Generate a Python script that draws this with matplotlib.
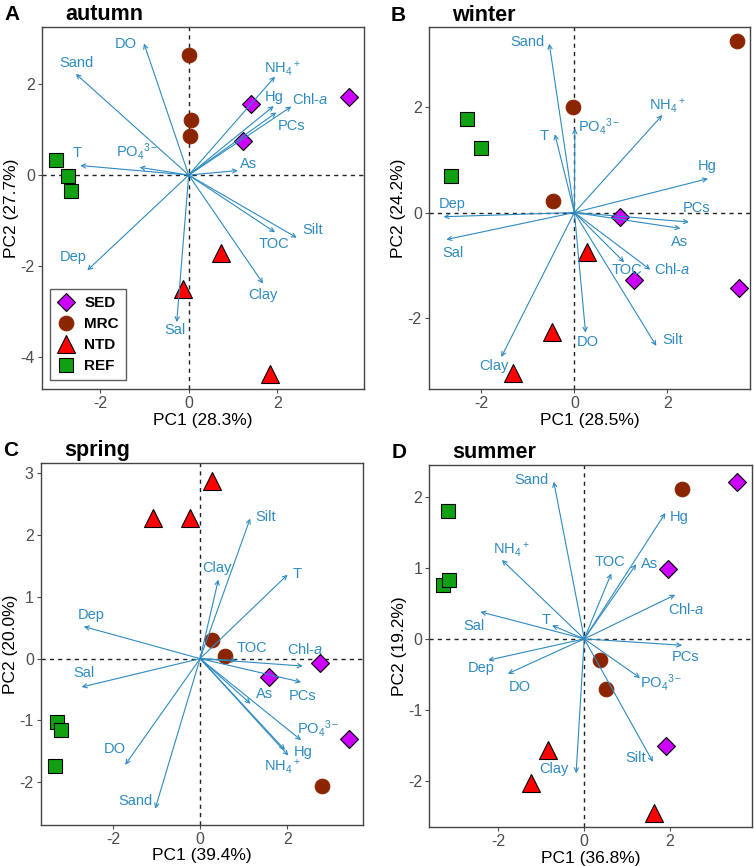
import matplotlib
matplotlib.use("Agg")
import matplotlib.pyplot as plt
import numpy as np

plt.rcParams['font.family'] = ['Liberation Sans', 'DejaVu Sans']
plt.rcParams['mathtext.fontset'] = 'custom'
plt.rcParams['mathtext.rm'] = 'Liberation Sans'
plt.rcParams['mathtext.it'] = 'Liberation Sans:italic'
plt.rcParams['axes.unicode_minus'] = False

# variable names used for the loading arrows
NH4 = r'NH$_4$$^+$'
PO4 = r'PO$_4$$^{3-}$'
CHL = r'Chl-$\mathit{a}$'

# ---- autumn ----
aut_groups = ['SED', 'SED', 'SED', 'MRC', 'MRC', 'MRC', 'NTD', 'NTD', 'NTD', 'REF', 'REF', 'REF']
aut_pc1 = [1.40, 1.22, 3.62, 0.00, 0.05, 0.03, 0.73, -0.12, 1.83, -2.99, -2.73, -2.65]
aut_pc2 = [1.57, 0.76, 1.71, 2.64, 1.21, 0.85, -1.71, -2.52, -4.39, 0.33, -0.02, -0.35]
aut_vars = ['DO', 'Sand', NH4, 'Hg', CHL, 'PCs', 'T', PO4, 'As', 'Silt', 'TOC', 'Clay', 'Dep', 'Sal']
aut_load1 = [-1.01, -2.55, 1.95, 1.92, 2.32, 1.98, -2.45, -1.11, 1.11, 2.44, 1.95, 1.68, -2.29, -0.27]
aut_load2 = [2.90, 2.23, 2.17, 1.52, 1.51, 1.38, 0.21, 0.17, 0.10, -1.38, -1.26, -2.39, -2.10, -3.24]
aut_labx = [-1.42, -2.53, 2.12, 1.93, 2.74, 2.32, -2.51, -1.17, 1.35, 2.80, 1.92, 1.68, -2.62, -0.31]
aut_laby = [2.88, 2.48, 2.35, 1.71, 1.67, 1.08, 0.49, 0.53, 0.24, -1.21, -1.51, -2.65, -1.80, -3.42]

# ---- winter ----
win_groups = ['MRC', 'MRC', 'MRC', 'REF', 'REF', 'REF', 'SED', 'SED', 'SED', 'NTD', 'NTD', 'NTD']
win_pc1 = [3.49, -0.03, -0.47, -2.30, -2.00, -2.66, 0.97, 1.28, 3.54, 0.27, -0.49, -1.32]
win_pc2 = [3.25, 2.00, 0.21, 1.76, 1.22, 0.69, -0.08, -1.27, -1.42, -0.74, -2.25, -3.03]
win_vars = ['Sand', NH4, PO4, 'T', 'Hg', 'PCs', 'As', CHL, 'TOC', 'Silt', 'DO', 'Clay', 'Dep', 'Sal']
win_load1 = [-0.54, 1.89, 0.01, -0.42, 2.87, 2.46, 2.28, 1.63, 1.07, 1.76, 0.24, -1.57, -2.81, -2.75]
win_load2 = [3.19, 1.84, 1.59, 1.48, 0.64, -0.18, -0.30, -1.08, -0.94, -2.52, -2.27, -2.73, -0.08, -0.51]
win_labx = [-1.00, 1.99, 0.54, -0.66, 2.85, 2.63, 2.26, 2.10, 1.13, 2.12, 0.29, -1.72, -2.63, -2.61]
win_laby = [3.23, 2.01, 1.62, 1.45, 0.88, 0.09, -0.55, -1.08, -1.08, -2.41, -2.44, -2.90, 0.17, -0.77]

# ---- spring ----
spr_groups = ['NTD', 'NTD', 'NTD', 'MRC', 'MRC', 'MRC', 'SED', 'SED', 'SED', 'REF', 'REF', 'REF']
spr_pc1 = [0.28, -1.07, -0.23, 0.28, 0.58, 2.80, 2.76, 1.58, 3.41, -3.28, -3.20, -3.33]
spr_pc2 = [2.87, 2.28, 2.28, 0.31, 0.04, -2.07, -0.07, -0.30, -1.30, -1.02, -1.15, -1.74]
spr_vars = ['Silt', 'Clay', 'T', 'Dep', 'TOC', CHL, 'PCs', 'As', PO4, 'Hg', NH4, 'Sal', 'DO', 'Sand']
spr_load1 = [1.15, 0.42, 2.01, -2.67, 0.84, 2.36, 2.32, 1.16, 2.32, 1.95, 2.03, -2.72, -1.72, -1.03]
spr_load2 = [2.27, 1.28, 1.36, 0.52, -0.03, -0.12, -0.38, -0.73, -1.32, -1.48, -1.57, -0.46, -1.72, -2.43]
spr_labx = [1.51, 0.38, 2.24, -2.51, 1.19, 2.41, 2.36, 1.49, 2.72, 2.36, 1.90, -2.67, -1.97, -1.49]
spr_laby = [2.30, 1.47, 1.37, 0.71, 0.17, 0.15, -0.61, -0.58, -1.13, -1.52, -1.76, -0.24, -1.47, -2.31]

# ---- summer ----
sum_groups = ['SED', 'SED', 'SED', 'MRC', 'MRC', 'MRC', 'REF', 'REF', 'REF', 'NTD', 'NTD', 'NTD']
sum_pc1 = [3.56, 1.95, 1.90, 2.28, 0.36, 0.51, -3.18, -3.28, -3.15, -0.85, -1.24, 1.62]
sum_pc2 = [2.20, 0.98, -1.51, 2.11, -0.29, -0.70, 1.80, 0.76, 0.83, -1.56, -2.03, -2.45]
sum_vars = ['Sand', 'Hg', NH4, 'TOC', 'As', CHL, 'Sal', 'T', 'PCs', 'Dep', 'DO', PO4, 'Silt', 'Clay']
sum_load1 = [-0.71, 1.89, -1.92, 0.63, 1.21, 2.12, -2.42, -0.75, 2.28, -2.24, -1.78, 1.30, 1.60, -0.19]
sum_load2 = [2.21, 1.77, 1.11, 0.92, 1.05, 0.62, 0.38, 0.19, -0.09, -0.30, -0.49, -0.55, -1.73, -1.89]
sum_labx = [-1.24, 2.22, -1.69, 0.61, 1.52, 2.38, -2.56, -0.89, 2.35, -2.40, -1.51, 1.79, 1.19, -0.70]
sum_laby = [2.23, 1.72, 1.25, 1.08, 1.06, 0.42, 0.18, 0.26, -0.26, -0.41, -0.67, -0.62, -1.68, -1.83]

group_order = ['SED', 'MRC', 'NTD', 'REF']
group_style = {
    'SED': dict(marker='D', color='#CC00FF', ms=9.3, mec='black'),
    'MRC': dict(marker='o', color='#8B2500', ms=10.5, mec='#8B2500'),
    'NTD': dict(marker='^', color='#FF0000', ms=13, mec='black'),
    'REF': dict(marker='s', color='#11A011', ms=9.5, mec='black'),
}
arrow_col = '#2E8BC0'

panels = [
    dict(letter='A', title='autumn', pct1='28.3', pct2='27.7', groups=aut_groups, pc1=aut_pc1, pc2=aut_pc2,
         vars=aut_vars, l1=aut_load1, l2=aut_load2, lx=aut_labx, ly=aut_laby,
         xlim=(-3.32, 3.96), ylim=(-4.72, 3.27), yt=[-4, -2, 0, 2],
         rect=[0.0553, 0.5505, 0.4275, 0.4187], legend=True),
    dict(letter='B', title='winter', pct1='28.5', pct2='24.2', groups=win_groups, pc1=win_pc1, pc2=win_pc2,
         vars=win_vars, l1=win_load1, l2=win_load2, lx=win_labx, ly=win_laby,
         xlim=(-3.13, 3.78), ylim=(-3.34, 3.50), yt=[-2, 0, 2],
         rect=[0.5686, 0.5505, 0.4265, 0.4180], legend=False),
    dict(letter='C', title='spring', pct1='39.4', pct2='20.0', groups=spr_groups, pc1=spr_pc1, pc2=spr_pc2,
         vars=spr_vars, l1=spr_load1, l2=spr_load2, lx=spr_labx, ly=spr_laby,
         xlim=(-3.66, 3.75), ylim=(-2.69, 3.17), yt=[-2, -1, 0, 1, 2, 3],
         rect=[0.0540, 0.0477, 0.4279, 0.4177], legend=False),
    dict(letter='D', title='summer', pct1='36.8', pct2='19.2', groups=sum_groups, pc1=sum_pc1, pc2=sum_pc2,
         vars=sum_vars, l1=sum_load1, l2=sum_load2, lx=sum_labx, ly=sum_laby,
         xlim=(-3.61, 3.91), ylim=(-2.65, 2.45), yt=[-2, -1, 0, 1, 2],
         rect=[0.5694, 0.0447, 0.4280, 0.4187], legend=False),
]

fig = plt.figure(figsize=(7.54, 8.66), dpi=100)

for p in panels:
    ax = fig.add_axes(p['rect'])
    ax.axhline(0, color='#222222', ls=(0, (3, 3)), lw=1, zorder=1)
    ax.axvline(0, color='#222222', ls=(0, (3, 3)), lw=1, zorder=1)

    # site scores
    g = np.array(p['groups'])
    x = np.array(p['pc1'])
    y = np.array(p['pc2'])
    for name in group_order:
        st = group_style[name]
        m = g == name
        ax.plot(x[m], y[m], ls='none', marker=st['marker'], ms=st['ms'], mfc=st['color'],
                mec=st['mec'], mew=0.8, zorder=2, label=name)

    # loading arrows
    for v, a, b, tx, ty in zip(p['vars'], p['l1'], p['l2'], p['lx'], p['ly']):
        ax.annotate('', xy=(a, b), xytext=(0, 0),
                    arrowprops=dict(arrowstyle='->,head_length=0.3,head_width=0.15',
                                    color=arrow_col, lw=0.8, shrinkA=0, shrinkB=0), zorder=3)
        ax.text(tx, ty, v, color=arrow_col, fontsize=10.5, ha='center', va='center', zorder=4)

    ax.set_xlim(p['xlim'])
    ax.set_ylim(p['ylim'])
    ax.set_xticks([-2, 0, 2])
    ax.set_yticks(p['yt'])
    ax.tick_params(colors='#4D4D4D', labelsize=11.5, length=3, width=0.8, pad=2)
    for s in ax.spines.values():
        s.set_color('#444444')
        s.set_linewidth(1.0)
    ax.set_xlabel('PC1 (%s%%)' % p['pct1'], fontsize=12.5, labelpad=1)
    ax.set_ylabel('PC2 (%s%%)' % p['pct2'], fontsize=12.5, labelpad=1)

    if p['legend']:
        leg = ax.legend(loc='lower left', bbox_to_anchor=(0.026, 0.026), borderaxespad=0,
                        frameon=True, fancybox=False, edgecolor='#333333',
                        prop=dict(weight='bold', size=11), handletextpad=0.6,
                        labelspacing=0.45, borderpad=0.45, handlelength=1.2)
        leg.get_frame().set_linewidth(1.0)

    # panel letter and season title
    x0, y0 = p['rect'][0], p['rect'][1] + p['rect'][3]
    fig.text(x0 - 0.050, y0 + 0.014, p['letter'], fontsize=15, fontweight='bold', va='center')
    fig.text(x0 + 0.031, y0 + 0.014, p['title'], fontsize=15.5, fontweight='bold', va='center')

fig.savefig('out.png', dpi=100)
